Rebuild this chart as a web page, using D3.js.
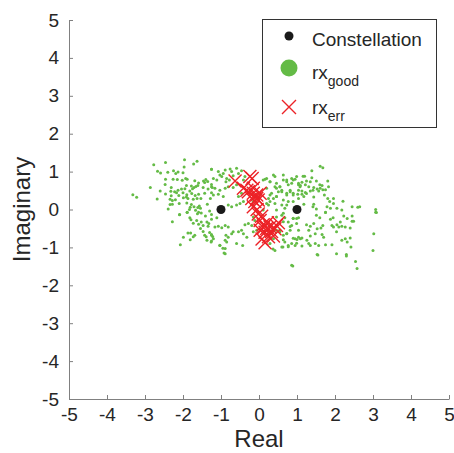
<!DOCTYPE html>
<html>
<head>
<meta charset="utf-8">
<script src="https://cdn.jsdelivr.net/npm/d3@7.9.0/dist/d3.min.js"></script>
<style>
  body { margin: 0; background: #fff; }
  svg { display: block; font-family: "Liberation Sans", Arial, sans-serif; }
</style>
</head>
<body>
<svg id="chart" width="454" height="453"></svg>
<script>
// ideal symbol positions
const constellation = [[-1, 0], [1, 0]];

// received samples decided correctly
const rxGood = [
  [-2.46,1.24],[-1.96,1.31],[-1.63,1.27],[-2.77,1.18],[-1.72,1.20],[-1.97,1.12],[-1.25,1.06],[-2.67,1.01],
  [-2.59,0.96],[-2.40,0.98],[-2.25,1.02],[-2.13,0.99],[-2.19,0.95],[-2.00,0.97],[-2.46,0.80],[-2.26,0.80],
  [-2.15,0.79],[-1.93,0.82],[-1.89,0.80],[-2.02,0.77],[-1.69,0.76],[-1.59,0.70],[-1.46,0.75],[-1.40,0.79],
  [-1.35,0.74],[-1.43,0.71],[-1.25,0.66],[-2.47,0.66],[-2.86,0.58],[-2.31,0.58],[-1.91,0.63],[-1.78,0.62],
  [-1.71,0.58],[-1.66,0.61],[-1.61,0.63],[-1.75,0.55],[-1.47,0.58],[-1.34,0.54],[-1.23,0.58],[-2.60,0.49],
  [-2.32,0.48],[-2.22,0.47],[-2.13,0.51],[-2.04,0.54],[-1.95,0.55],[-1.82,0.49],[-3.32,0.39],[-3.22,0.32],
  [-2.68,0.28],[-2.46,0.41],[-2.31,0.36],[-2.17,0.44],[-2.11,0.37],[-2.00,0.44],[-1.90,0.39],[-1.77,0.42],
  [-1.68,0.37],[-1.59,0.40],[-1.43,0.43],[-1.25,0.44],[-2.34,0.27],[-2.28,0.24],[-2.20,0.26],[-1.99,0.31],
  [-1.91,0.33],[-1.87,0.29],[-1.73,0.27],[-1.63,0.29],[-1.53,0.29],[-1.28,0.29],[-2.34,0.13],[-2.28,0.14],
  [-2.10,0.16],[-1.90,0.17],[-1.78,0.13],[-1.71,0.07],[-1.81,0.06],[-1.61,0.05],[-1.57,0.09],[-1.54,0.03],
  [-1.36,0.14],[-2.39,0.01],[-1.83,0.00],[-1.67,-0.02],[-1.89,-0.07],[-1.59,-0.07],[-2.09,-0.13],[-1.30,-0.04],
  [-2.09,-0.14],[-1.89,-0.08],[-1.82,-0.22],[-1.79,-0.27],[-1.62,-0.11],[-1.52,-0.09],[-1.41,-0.17],[-1.25,-0.13],
  [-2.28,-0.32],[-1.73,-0.36],[-1.64,-0.29],[-1.59,-0.39],[-1.52,-0.33],[-1.37,-0.33],[-1.32,-0.37],[-1.34,-0.44],
  [-1.47,-0.42],[-1.54,-0.50],[-1.47,-0.58],[-1.43,-0.68],[-1.39,-0.72],[-1.30,-0.61],[-1.25,-0.66],[-1.22,-0.71],
  [-1.87,-0.62],[-1.80,-0.62],[-1.69,-0.68],[-1.73,-0.72],[-1.99,-0.73],[-1.81,-0.80],[-1.37,-0.81],[-1.25,-0.83],
  [-2.07,-0.93],[-1.03,-0.94],[-0.95,-1.02],[-0.92,-1.15],
  [-1.25,1.06],[-1.07,1.00],[-1.03,0.91],[-0.94,0.95],[-0.89,1.04],[-0.76,1.07],[-0.72,1.00],[-0.59,1.09],
  [-0.54,0.95],[-0.46,1.02],[-1.20,0.82],[-1.11,0.78],[-0.98,0.87],[-0.85,0.82],[-0.87,0.73],[-0.78,0.78],
  [-0.68,0.89],[-0.41,0.78],[-0.37,0.87],[-1.25,0.60],[-1.16,0.56],[-1.03,0.51],[-0.89,0.56],[-0.81,0.60],
  [-0.68,0.58],[-0.59,0.65],[-1.20,0.38],[-1.07,0.40],[-0.94,0.34],[-0.54,0.34],[-0.46,0.43],[-0.81,0.12],
  [-0.72,0.07],[-0.59,0.12],[-0.50,0.16],[-0.41,0.21],[-0.15,0.21],
  [0.11,0.78],[0.20,0.82],[0.29,0.73],[0.38,0.91],[0.42,0.60],[0.46,0.56],[0.55,0.60],[0.51,0.47],
  [0.60,0.51],[0.64,0.78],[0.73,0.73],[0.86,0.82],[0.90,0.78],[0.99,0.87],[1.04,0.65],[1.08,0.60],
  [0.82,0.47],[0.73,0.38],[0.90,0.38],[0.29,0.38],[0.25,0.29],[0.38,0.29],[0.46,0.34],[0.20,0.16],
  [0.25,0.12],[0.11,-0.01],[0.46,-0.01],[0.60,0.12],[0.68,0.03],[0.90,0.21],[0.77,0.21],[1.04,0.29],
  [0.16,0.80],[0.29,0.73],[0.42,0.87],[0.46,0.69],[0.55,0.60],[0.64,0.91],[0.73,0.78],[0.77,0.65],
  [0.86,0.69],[0.95,0.80],[0.82,0.51],[0.73,0.43],[0.60,0.47],[0.46,0.34],[0.33,0.43],[0.20,0.56],
  [0.29,0.21],[0.42,0.16],[0.64,0.25],[0.90,0.43],[0.73,0.12],
  [-1.25,-0.26],[-1.11,-0.22],[-1.16,-0.46],[-1.07,-0.44],[-0.98,-0.48],[-0.89,-0.42],[-0.81,-0.46],[-0.87,-0.68],
  [-0.81,-0.73],[-0.89,-0.81],[-0.85,-0.86],[-0.72,-0.64],[-0.68,-0.59],[-0.54,-0.59],[-0.46,-0.55],[-0.41,-0.64],
  [-0.32,-0.73],[-0.37,-0.40],[-0.28,-0.37],[-0.19,-0.42],[-0.15,-0.20],[-0.11,-0.29],[-1.25,-0.68],[-1.20,-0.77],
  [-1.26,-0.86],[-1.03,-0.95],[-0.89,-1.03],[-0.89,-1.17],[-0.59,-0.90],[-0.43,-0.95],[-0.15,-0.59],[-0.06,-0.55],
  [0.46,-0.20],[0.60,-0.15],[0.68,-0.22],[0.77,-0.33],[0.86,-0.42],[0.90,-0.24],[0.99,-0.24],[1.04,-0.55],
  [0.82,-0.55],[0.73,-0.64],[0.64,-0.68],[0.55,-0.59],[0.46,-0.55],[0.68,-0.86],[0.77,-0.95],[0.86,-0.90],
  [0.95,-0.77],[0.95,-0.95],[0.60,-0.99],[0.42,-1.08],[0.86,-1.47],[0.29,-0.90],[0.38,-0.77],
  [0.64,-0.10],[0.90,-0.23],[0.64,-0.32],[0.82,-0.45],[0.99,-0.37],[0.55,-0.54],[0.73,-0.63],[0.90,-0.76],
  [0.64,-0.80],[0.99,-0.89],[0.77,-0.98],[0.37,-1.04],[0.63,-0.99],[0.89,-1.49],[1.55,-1.20],
  [1.39,1.02],[1.61,1.14],[1.68,1.10],[1.16,0.88],[1.20,0.88],[1.39,0.84],[1.25,0.75],[1.35,0.73],
  [1.51,0.75],[1.60,0.65],[1.66,0.63],[1.81,0.75],[1.04,0.69],[1.13,0.72],[1.09,0.63],[1.22,0.65],
  [1.31,0.60],[1.44,0.58],[1.53,0.54],[1.61,0.56],[1.68,0.52],[1.83,0.60],[1.04,0.51],[1.13,0.49],
  [1.22,0.45],[1.35,0.49],[1.42,0.51],[1.57,0.49],[1.75,0.52],[1.02,0.40],[1.13,0.40],[1.25,0.42],
  [1.18,0.34],[1.44,0.33],[1.72,0.38],[1.81,0.29],[1.96,0.29],[2.21,0.22],[1.86,0.21],[1.96,0.16],
  [1.44,0.14],[1.42,0.07],[1.18,0.14],[1.51,0.01],[1.79,0.07],[1.88,0.03],[2.05,0.03],[2.18,-0.01],
  [2.45,0.07],[2.60,0.06],[2.65,0.07],[3.07,0.00],[3.07,-0.07],[1.75,-0.07],
  [1.04,-0.22],[1.51,-0.15],[1.60,-0.22],[1.75,-0.08],[1.88,-0.26],[1.95,-0.22],[2.23,-0.17],[2.32,-0.24],
  [2.45,-0.17],[2.14,-0.33],[2.45,-0.31],[2.49,-0.31],[1.25,-0.40],[1.35,-0.44],[1.44,-0.37],[1.53,-0.51],
  [1.63,-0.49],[1.68,-0.42],[1.31,-0.55],[1.48,-0.64],[1.66,-0.66],[1.70,-0.73],[1.92,-0.42],[1.96,-0.46],
  [2.05,-0.40],[2.10,-0.46],[2.18,-0.44],[2.27,-0.46],[2.40,-0.49],[2.04,-0.59],[1.04,-0.73],[1.09,-0.77],
  [1.13,-0.75],[1.00,-0.79],[1.35,-0.70],[1.26,-0.81],[1.31,-0.90],[1.48,-0.90],[1.57,-0.95],[1.75,-0.93],
  [1.92,-0.93],[2.18,-0.81],[2.27,-0.77],[2.32,-0.86],[2.40,-0.75],[1.13,-0.96],[1.35,-0.95],[1.53,-1.19],
  [2.04,-1.17],[2.30,-1.19],[2.30,-1.23],[2.42,-0.99],[3.02,-0.64],[3.00,-1.08],[2.54,-1.37],[2.58,-1.56],
  [3.09,-0.08]
];

// received samples decided wrongly
const rxErr = [
  [-0.63,0.75],[-0.24,0.87],[-0.18,0.82],[-0.41,0.56],[-0.32,0.51],[-0.28,0.47],[-0.15,0.56],[-0.06,0.38],
  [0.03,0.43],[-0.15,0.43],[-0.11,0.21],[-0.02,0.25],[-0.19,0.29],[-0.06,0.29],[-0.15,0.07],[-0.05,0.0],
  [-0.02,-0.12],[0.07,-0.18],[0.03,-0.29],[0.11,-0.40],[0.20,-0.50],[0.29,-0.46],[0.16,-0.60],[0.33,-0.58],
  [0.42,-0.51],[0.46,-0.42],[0.25,-0.72],[0.38,-0.70],[0.16,-0.88],[0.51,-0.35],[0.03,-0.55],[0.08,-0.78],
  [0.12,-0.48],[0.22,-0.35]
];

const ticks = [-5, -4, -3, -2, -1, 0, 1, 2, 3, 4, 5];

const green = '#64bb46';
const red = '#ec2227';

const svg = d3.select('#chart');

const x = d3.scaleLinear().domain([-5, 5]).range([69, 449]);
const y = d3.scaleLinear().domain([-5, 5]).range([399, 20]);

// axes (MATLAB style, box off, ticks inside), plain hyphen for minus
const fmt = d => String(d);
const xAxis = svg.append('g')
  .attr('transform', `translate(0,${y(-5)})`)
  .call(d3.axisBottom(x).tickValues(ticks).tickFormat(fmt).tickSizeInner(-4).tickSizeOuter(0).tickPadding(9));
const yAxis = svg.append('g')
  .attr('transform', `translate(${x(-5)},0)`)
  .call(d3.axisLeft(y).tickValues(ticks).tickFormat(fmt).tickSizeInner(-4).tickSizeOuter(0).tickPadding(10));

[xAxis, yAxis].forEach(g => {
  g.select('.domain').attr('stroke', '#808080');
  g.selectAll('.tick line').attr('stroke', '#808080');
  g.selectAll('.tick text')
    .attr('fill', '#262626')
    .style('font-size', '19px')
    .style('font-family', '"Liberation Sans", Arial, sans-serif');
});

svg.append('text')
  .attr('x', x(0)).attr('y', 447)
  .attr('text-anchor', 'middle')
  .attr('fill', '#262626')
  .style('font-size', '24px')
  .text('Real');

svg.append('text')
  .attr('transform', `translate(30,${y(0)}) rotate(-90)`)
  .attr('text-anchor', 'middle')
  .attr('fill', '#262626')
  .style('font-size', '24px')
  .text('Imaginary');

// markers
svg.append('g').selectAll('circle')
  .data(rxGood)
  .join('circle')
  .attr('cx', d => x(d[0]))
  .attr('cy', d => y(d[1]))
  .attr('r', 1.5)
  .attr('fill', green);

const xSize = 6.5;
function cross(g, cx, cy, s) {
  g.append('path')
    .attr('d', `M${cx - s},${cy - s}L${cx + s},${cy + s}M${cx - s},${cy + s}L${cx + s},${cy - s}`)
    .attr('stroke', red)
    .attr('stroke-width', 1.4)
    .attr('fill', 'none');
}
const errG = svg.append('g');
rxErr.forEach(d => cross(errG, x(d[0]), y(d[1]), xSize));

svg.append('g').selectAll('circle')
  .data(constellation)
  .join('circle')
  .attr('cx', d => x(d[0]))
  .attr('cy', d => y(d[1]))
  .attr('r', 4.5)
  .attr('fill', '#1a1a1a');

// legend
const leg = svg.append('g');
leg.append('rect')
  .attr('x', 262.5).attr('y', 19.5)
  .attr('width', 174).attr('height', 108)
  .attr('fill', '#fff')
  .attr('stroke', '#333')
  .attr('stroke-width', 1);

leg.append('circle').attr('cx', 289).attr('cy', 36).attr('r', 4.5).attr('fill', '#1a1a1a');
leg.append('text').attr('x', 312).attr('y', 46)
  .attr('fill', '#262626').style('font-size', '19px').text('Constellation');

leg.append('circle').attr('cx', 289).attr('cy', 68).attr('r', 8.5).attr('fill', green);
const t2 = leg.append('text').attr('x', 312).attr('y', 79)
  .attr('fill', '#262626').style('font-size', '19px');
t2.append('tspan').text('rx');
t2.append('tspan').attr('dy', 7).style('font-size', '14px').text('good');

cross(leg, 289, 107, 7);
const t3 = leg.append('text').attr('x', 312).attr('y', 114)
  .attr('fill', '#262626').style('font-size', '19px');
t3.append('tspan').text('rx');
t3.append('tspan').attr('dy', 7).style('font-size', '14px').text('err');
</script>
</body>
</html>
